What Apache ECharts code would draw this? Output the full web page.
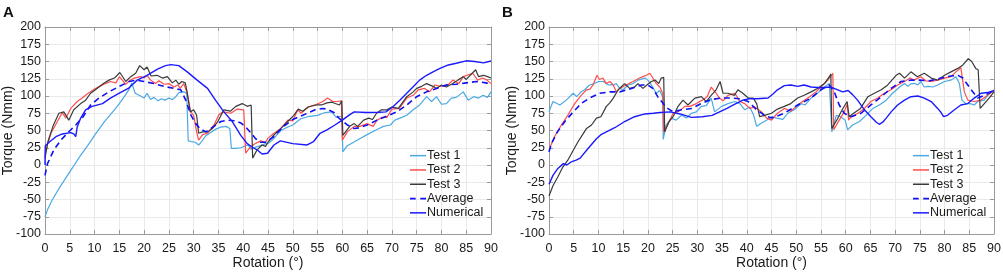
<!DOCTYPE html>
<html>
<head>
<meta charset="utf-8">
<script src="https://cdn.jsdelivr.net/npm/echarts@6/dist/echarts.min.js"></script>
<style>
  html, body { margin: 0; padding: 0; background: #fff; }
  #chart { width: 1003px; height: 273px; }
</style>
</head>
<body>
<div id="chart"></div>
<script>
// rotation (deg), torque (Nmm) pairs
const seriesNames = ['Test 1', 'Test 2', 'Test 3', 'Average', 'Numerical'];
const panelLabels = ['A', 'B'];
const xTicks = { min: 0, max: 90, step: 5 };
const yTicks = { min: -100, max: 200, step: 25 };

// panel A
const aTest1 = [[0,-75],[0.5,-65],[1.5,-50],[3,-32],[5,-10],[7,12],[9,32],[10,43],[12,63],[14,80],[15,89],[16,99],[17,110],[17.5,119],[18.2,104],[19,101],[20,97],[20.6,104],[21.3,95],[22,98],[22.8,93],[23.5,96],[24.2,94],[25,97],[25.7,95],[26.4,99],[27,105],[28,106],[28.6,104],[28.9,35],[29.5,34],[30.3,33],[31,29],[31.6,34],[32.4,42],[33.4,47],[34.5,52],[35.5,55],[36.5,56],[37.3,53],[37.6,24],[38.5,24],[39.5,25],[40.5,28],[41,29],[41.5,23],[42.5,26],[43.5,28],[44.5,31],[45,31],[46,37],[47.6,50],[49,55],[50,58],[51.6,67],[53,70],[55,72],[56.5,76],[57.8,77],[58.8,69],[59.9,71],[60.1,19],[61,28],[62,32],[63.5,38],[65,44],[66.9,51],[68.3,56],[69.7,58],[70.6,65],[72,69],[73,72],[74.3,80],[75.6,87],[77,99],[78,92],[79,99],[80,88],[81,89],[82,97],[83,98],[84.4,106],[85.4,94],[86.5,99],[87.5,97],[88.4,101],[89.3,98],[90,106]];
const aTest2 = [[0,15],[0.5,30],[1.2,46],[2.5,63],[3.5,76],[4.2,68],[5.2,82],[6.5,92],[7.5,97],[8.5,103],[10,110],[11,114],[12.2,118],[13.2,121],[14.3,119],[15,128],[15.6,123],[16.3,117],[17,122],[18,126],[19.3,128],[20,126],[20.6,130],[21.3,123],[22.3,118],[23,122],[24,117],[25,118],[26,113],[26.8,116],[27.3,111],[28,118],[28.7,104],[29.4,77],[30,72],[30.6,48],[31,36],[31.8,44],[32.8,46],[34.1,58],[35.1,73],[36,77],[37.5,75],[38.8,81],[40.1,80],[40.5,17],[41.2,24],[42.2,30],[43.5,35],[44.5,33],[45,39],[46,45],[47.6,53],[49,65],[50,64],[51,80],[51.7,75],[53.1,84],[54.8,88],[56.1,92],[57,97],[58.1,92],[59,92],[59.8,93],[60,36],[61,48],[62.4,56],[63.5,56],[65,60],[66.2,56],[67,65],[68,69],[69,69],[70,81],[71.5,82],[73,97],[74.3,101],[75.3,109],[76.6,111],[77.6,106],[78.7,116],[79.7,114],[81.3,116],[82.3,123],[83.5,118],[84.4,128],[86.3,133],[87.3,123],[88.3,126],[89.2,123],[90,118]];
const aTest3 = [[0,10],[0.6,34],[1.6,56],[2.8,75],[3.8,77],[4.8,65],[5.8,80],[7.2,89],[8.2,94],[9.2,104],[10.5,111],[11.8,118],[12.9,123],[14,126],[15.1,134],[16.3,121],[17.3,128],[18.3,133],[19.1,144],[20,138],[20.6,142],[21.4,129],[22.6,130],[23.7,126],[24.7,128],[25.7,119],[26.4,123],[27,117],[27.6,121],[28.3,119],[28.6,109],[29.3,77],[30,80],[30.6,72],[31,46],[31.8,48],[32.8,48],[33.8,53],[34.8,62],[36.1,80],[37.4,78],[38.5,85],[39.8,89],[40.8,85],[41.6,87],[41.9,10],[42.8,22],[43.8,29],[44.5,27],[45,33],[46,42],[47.6,53],[49,63],[50.2,72],[51.1,81],[52,78],[53.1,84],[54.8,87],[55.8,87],[56.9,90],[57.9,91],[59.4,87],[59.9,93],[60.1,43],[61.5,56],[62.4,60],[63.1,56],[64.3,65],[65.3,68],[66.1,66],[66.9,75],[67.9,80],[69,80],[70,84],[71.3,82],[73,99],[74.3,106],[75,111],[76,114],[77,118],[78.3,114],[79,111],[80,116],[81,113],[82.3,118],[83.3,123],[84.4,128],[85,124],[86.9,138],[87.5,128],[88.5,130],[89.3,128],[90,126]];
const aAverage = [[0,-15],[0.5,2],[1.8,22],[3.2,36],[4.5,46],[6.2,58],[7.7,70],[9.2,87],[10.9,97],[12.9,106],[15,114],[17,121],[18.5,123],[20,121],[22,118],[24,114],[26,111],[27.4,109],[28.4,94],[29.4,73],[30.4,60],[31.4,52],[32.5,48],[33.5,53],[34.5,58],[35.5,63],[37,65],[38.5,64],[39.5,61],[40.5,55],[41.5,47],[42.5,38],[43.5,33],[44.5,33],[46,40],[48,55],[50,66],[52,72],[54.5,80],[56,82],[57,81],[58.3,76],[59.3,68],[61,58],[62.4,53],[63.5,54],[65,58],[67,65],[69,71],[71,77],[73,87],[75,99],[77,106],[79,111],[81,116],[83,117],[85,119],[87,121],[89,119],[90,117]];
const aNumerical = [[0,0],[0.05,28],[1,34],[2.2,41],[3.5,45],[5.2,47],[5.8,45],[6.2,41],[6.5,55],[7.2,68],[8.2,80],[9.5,85],[11.6,89],[13.2,97],[15,104],[16.8,111],[18.6,123],[20.6,130],[22.7,139],[24.3,144],[25.4,145.5],[27,144],[28.7,135],[30.7,123],[32.8,111],[34.4,94],[36.1,77],[37.8,63],[39.5,43],[40.8,31],[42,25],[42.8,22],[43.8,16],[44.9,17],[46.2,29],[47.5,35],[50,31],[52.9,29],[54.2,34],[55.5,46],[56.9,51],[58.5,58],[60,65],[61.5,73],[62.4,77],[64.8,76],[67.5,76.5],[68.8,77],[70.2,84.5],[71.6,94],[73,104],[74.3,113.5],[75.6,123],[77,130],[78.3,135],[79.7,140],[81.4,145],[83,147.5],[85,151],[86.7,150],[88.5,148],[90,150.7]];

// panel B
const bTest1 = [[0,77],[0.8,92],[2.2,87],[3.5,94],[4.9,104],[5.6,99],[6.5,106],[7.2,109],[8.2,116],[9.2,118],[10,121],[11,121],[12,116],[13,116],[13.6,118],[14.3,111],[15,109],[16,116],[17,118],[18,123],[19.4,126],[20,123],[20.7,116],[21.7,104],[22.4,108],[23,98],[23.1,37],[23.7,58],[24.7,68],[25.7,65],[26.8,72],[27.8,68],[28.8,75],[29.8,77],[30.8,85],[31.8,86],[32.8,97],[33.5,77],[34.9,85],[36.2,89],[37.6,92],[38.6,89],[39.6,80],[40.6,84],[41.4,72],[42,56],[43,61],[44,65],[45,70],[46,68],[47.3,66],[48.3,75],[49.6,80],[51,89],[51.8,87],[53,97],[54.3,104],[55.7,113],[56.7,118],[57.2,48],[58.1,72],[59,70],[59.9,65],[60.4,51],[61.4,58],[62.8,63],[64.1,72],[65.5,82],[66.8,87],[68.2,94],[69.5,104],[70.9,113],[71.9,118],[72.6,114],[73.2,118],[74,118],[74.6,116],[75.2,121],[75.9,113],[76.6,114],[77.6,113],[78.6,116],[80,121],[81.3,123],[82.3,128],[83,118],[83.5,94],[84.3,89],[85.2,89],[86,87],[86.7,92],[88,94],[89.1,104],[90,107]];
const bTest2 = [[0,22],[1.1,41],[2.5,58],[3.8,72],[5.2,89],[6.5,101],[7.6,109],[8.3,110],[8.9,116],[9.7,130],[10.2,124],[10.9,126],[11.6,118],[12.3,121],[13,116],[13.6,106],[14.3,111],[15.6,116],[17,121],[18.3,126],[19,128],[19.7,130],[20.4,133],[21,126],[21.7,118],[22.4,113],[23,104],[23.2,48],[24.1,60],[25.1,75],[26.1,77],[27.5,85],[28.5,85],[29.8,89],[31,94],[32,99],[32.8,113],[33.8,104],[34.5,97],[35.2,93],[36.2,101],[37.6,104],[38.6,92],[39.6,89],[40.6,82],[41.6,84],[43,77],[44,68],[45,65],[46.2,75],[47.6,82],[48.9,78],[50,85],[51.3,92],[52.7,99],[54,106],[55,113],[56.4,123],[57.4,133],[57.6,51],[58.7,65],[59.7,77],[60.3,88],[60.6,65],[61.1,70],[62.5,75],[63.8,82],[65.1,92],[66.5,97],[67.8,104],[69.2,109],[70.5,116],[71.9,121],[73,126],[73.8,123],[75.2,128],[76.2,122],[77.3,121],[78.6,123],[80,126],[81.3,128],[82.3,135],[83.3,141],[84,106],[84.7,94],[86,92],[87.3,94],[88.7,101],[90,108]];
const bTest3 = [[0,-45],[0.8,-30],[1.8,-17],[2.8,-3],[3.8,7],[4.8,20],[5.9,34],[6.8,44],[7.6,53],[8.6,58],[9.6,68],[10.5,70],[11.6,85],[12.3,90],[13,97],[14,109],[15.3,118],[16.3,111],[17.3,113],[18,118],[19,111],[19.8,116],[20.7,121],[21.5,123],[22.2,118],[22.7,126],[23.2,127],[23.4,48],[24.3,63],[25.1,70],[26.1,85],[27.1,94],[28.1,87],[29.5,97],[30.8,99],[31.8,92],[32.8,101],[33.8,109],[34.6,121],[35.2,104],[36.2,104],[37.5,101],[38.2,109],[39.2,104],[40.3,97],[41.3,97],[42,89],[42.6,70],[43.6,72],[45,75],[46.2,81],[47.6,85],[48.9,89],[50.3,97],[51.6,101],[53,106],[54.3,111],[55.7,118],[56.7,128],[57,132],[57.2,53],[58.2,65],[59.2,79],[60.3,92],[60.7,70],[61.6,75],[63,82],[64.5,99],[65.8,104],[67.2,109],[68.5,116],[70.2,130],[70.9,133],[71.9,126],[73.2,135],[74.5,128],[75.9,133],[77.3,126],[78.6,123],[80,130],[81.3,135],[82.7,140],[83.7,145],[84.8,154],[85.5,150],[86.3,140],[86.8,138],[87.2,82],[88.4,92],[89,97],[90,106]];
const bAverage = [[0,19],[0.5,31],[1.7,48],[3.2,63],[4.9,77],[6.5,89],[8.2,97],[10.3,104],[12.3,106],[14.3,106],[16.7,111],[18.7,116],[20,116],[21,111],[22,99],[23.1,89],[24,82],[25.1,77],[26.8,80],[28.8,82],[30.8,89],[32.8,95],[34.9,97],[36.9,97],[38.5,96],[40.3,92],[42,80],[43.6,72],[45,68],[47.6,75],[50.3,87],[53,97],[55,109],[56.7,116],[57.7,106],[58.7,87],[59.7,75],[61.1,70],[63.1,75],[65.1,87],[67.2,99],[69.2,111],[71.2,121],[73.2,123],[75,123],[77,122],[79.3,126],[81.3,129],[82.7,130],[83.7,126],[84.7,116],[85.7,106],[86.7,97],[88.1,101],[90,108]];
const bNumerical = [[0,-28],[0.8,-15],[1.8,-5],[2.9,2],[3.6,0],[4.6,5],[5.5,7],[6.3,10],[7.9,24],[9.6,38],[10.5,44],[11.6,48],[13.3,54],[15.3,63],[17.3,70],[19.4,74],[21.1,75],[22.5,76],[24.5,77],[26.5,74],[28.8,69],[31,70],[33,72],[34.5,77],[36,82],[37.3,87],[39.2,94],[40.5,96],[42,96],[44.3,97],[45.3,103],[46.2,109],[47.6,115],[48.9,116],[50.3,114],[51.6,116],[53,113],[55,112],[57,113],[58.4,109],[59.4,106],[60.5,108],[61.4,102],[62.4,94],[63.8,80],[65.1,70],[66.2,62],[66.8,59],[67.5,62],[68.2,68],[69.2,77],[70.5,87],[71.9,94],[73.2,99],[74.6,100],[75.9,97],[77.3,92],[78.6,82],[79.3,76],[79.8,70],[80.6,72],[82,80],[83.3,87],[84.7,89],[86,97],[87.4,104],[88.7,105],[90,108]];

const panelData = [
  [aTest1, aTest2, aTest3, aAverage, aNumerical],
  [bTest1, bTest2, bTest3, bAverage, bNumerical]
];

const font = "'Liberation Sans', Arial, sans-serif";
const textColor = '#1a1a1a';
const boxColor = '#9a9a9a';
const gridColor = '#e9e9e9';
const lineStyles = [
  { color: '#4ba9e3', width: 1.2, type: 'solid' },
  { color: '#ff4d4d', width: 1.2, type: 'solid' },
  { color: '#3a3a3a', width: 1.2, type: 'solid' },
  { color: '#1010f0', width: 1.6, type: [6, 4] },
  { color: '#1a1aff', width: 1.4, type: 'solid' }
];
// legend glyphs: a short stroke, or two dashes for the average
const solidIcon = 'path://M0,0H16V1.5H0Z';
const dashIcon = 'path://M0,0H5V1.5H0Z M9,0H14V1.5H9Z';

const grids = [
  { left: 45, top: 27, width: 446, height: 207, outerBoundsMode: 'none' },
  { left: 549, top: 27, width: 445, height: 207, outerBoundsMode: 'none' }
];

let xAxes = [], yAxes = [], series = [], legends = [], titles = [];

grids.forEach((g, k) => {
  const tick = { show: true, inside: true, length: 4, lineStyle: { color: boxColor } };
  const line = { show: true, onZero: false, lineStyle: { color: boxColor, width: 1 } };
  xAxes.push({
    gridIndex: k, type: 'value', position: 'bottom',
    min: xTicks.min, max: xTicks.max, interval: xTicks.step,
    axisLine: line, axisTick: tick,
    axisLabel: { color: textColor, fontSize: 12.5, fontFamily: font, margin: 8 },
    splitLine: { show: true, lineStyle: { color: gridColor } },
    name: 'Rotation (°)', nameLocation: 'middle', nameGap: 22, nameMoveOverlap: false,
    nameTextStyle: { color: textColor, fontSize: 14, fontFamily: font }
  });
  xAxes.push({
    gridIndex: k, type: 'value', position: 'top',
    min: xTicks.min, max: xTicks.max, interval: xTicks.step,
    axisLine: line, axisTick: tick, axisLabel: { show: false }, splitLine: { show: false }
  });
  yAxes.push({
    gridIndex: k, type: 'value', position: 'left',
    min: yTicks.min, max: yTicks.max, interval: yTicks.step,
    axisLine: line, axisTick: tick,
    axisLabel: { color: textColor, fontSize: 12.5, fontFamily: font, margin: 4 },
    splitLine: { show: true, lineStyle: { color: gridColor } },
    name: 'Torque (Nmm)', nameLocation: 'middle', nameGap: 30, nameMoveOverlap: false,
    nameTextStyle: { color: textColor, fontSize: 14, fontFamily: font }
  });
  yAxes.push({
    gridIndex: k, type: 'value', position: 'right',
    min: yTicks.min, max: yTicks.max, interval: yTicks.step,
    axisLine: line, axisTick: tick, axisLabel: { show: false }, splitLine: { show: false }
  });

  panelData[k].forEach((d, i) => {
    series.push({
      name: seriesNames[i],
      type: 'line',
      xAxisIndex: k * 2,
      yAxisIndex: k * 2,
      data: d,
      symbol: 'none',
      showSymbol: false,
      z: i === 4 ? 3 : 2 + i * 0.1,
      lineStyle: lineStyles[i],
      itemStyle: { color: lineStyles[i].color }
    });
  });

  legends.push({
    data: seriesNames.map((n, i) => ({ name: n, icon: i === 3 ? dashIcon : solidIcon })),
    orient: 'vertical',
    left: g.left + g.width - 81,
    top: 149,
    padding: 0,
    itemGap: 1,
    itemWidth: 16,
    itemHeight: 10,
    selectedMode: false,
    itemStyle: { borderWidth: 0 },
    textStyle: { color: textColor, fontSize: 12.5, lineHeight: 13.3, fontFamily: font, padding: [0, 0, 0, -4] }
  });

  titles.push({
    text: panelLabels[k],
    left: k === 0 ? 3 : 502,
    top: 5,
    padding: 0,
    textStyle: { fontSize: 15, fontWeight: 'bold', color: '#111', fontFamily: font }
  });
});

const chart = echarts.init(document.getElementById('chart'));
chart.setOption({
  animation: false,
  backgroundColor: '#fff',
  title: titles,
  grid: grids,
  xAxis: xAxes,
  yAxis: yAxes,
  legend: legends,
  series: series
});
</script>
</body>
</html>
